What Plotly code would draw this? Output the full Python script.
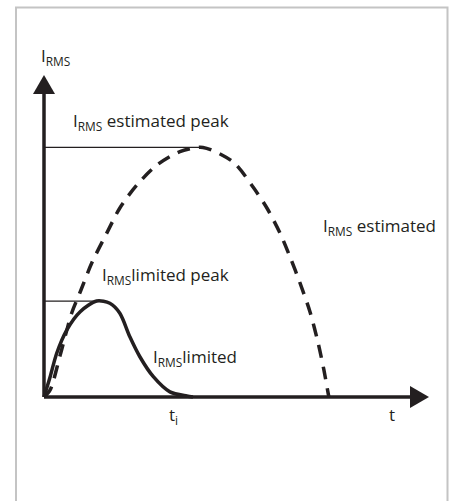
import plotly.graph_objects as go

# ---------------- data ----------------
# estimated I_RMS (dashed curve)
est_t = [0.00, 0.16, 0.42, 0.72, 0.94, 1.24, 1.63, 1.97, 2.41, 2.93, 3.53, 4.13,
         4.91, 5.43, 5.79, 6.13, 6.39, 6.65, 6.91, 7.12, 7.27, 7.38, 7.40]
est_i = [0.00, 0.22, 1.30, 2.61, 3.26, 4.16, 5.09, 5.87, 6.58, 7.20, 7.62, 7.75,
         7.30, 6.52, 5.87, 5.09, 4.35, 3.54, 2.64, 1.68, 0.84, 0.12, 0.00]
# limited I_RMS (solid curve)
lim_t = [0.00, 0.16, 0.33, 0.59, 0.94, 1.37, 1.71, 1.97, 2.23, 2.49, 2.84, 3.27, 3.71, 3.87]
lim_i = [0.00, 0.63, 1.36, 2.08, 2.65, 2.98, 2.91, 2.60, 1.87, 1.25, 0.63, 0.16, 0.03, 0.00]

est_peak_t, est_peak_i = 4.13, 7.75
lim_peak_t, lim_peak_i = 1.37, 2.98

T_AXIS_END = 10.0
I_AXIS_END = 10.0

labels = ["I<sub>RMS</sub>",
          "I<sub>RMS</sub> estimated peak",
          "I<sub>RMS</sub> estimated",
          "I<sub>RMS</sub>limited peak",
          "I<sub>RMS</sub>limited",
          "t<sub>i</sub>",
          "t"]
label_t = [-0.12, 0.70, 7.20, 1.46, 2.78, 3.20, 8.92]
label_i = [10.59, 8.55, 5.28, 3.76, 1.24, -0.56, -0.53]

# ---------------- layout geometry ----------------
W, H = 453, 501
OX, OY = 44, 397          # origin in pixels
PX_T = 38.5               # pixels per t unit
PX_I = 32.2               # pixels per I unit
xr = [-OX / PX_T, (W - OX) / PX_T]
yr = [-(H - OY) / PX_I, OY / PX_I]

INK = "#231f20"
AH_LEN, AH_HALF = 19, 11  # arrowhead size in px

fig = go.Figure()

# thin peak reference lines
fig.add_trace(go.Scatter(x=[0, est_peak_t], y=[est_peak_i, est_peak_i], mode="lines",
                         line=dict(color=INK, width=1.2), hoverinfo="skip"))
fig.add_trace(go.Scatter(x=[0, lim_peak_t], y=[lim_peak_i, lim_peak_i], mode="lines",
                         line=dict(color=INK, width=1.2), hoverinfo="skip"))

# curves
fig.add_trace(go.Scatter(x=est_t, y=est_i, mode="lines",
                         line=dict(color=INK, width=3.5, dash="13px,9px", shape="spline", smoothing=0.8),
                         hoverinfo="skip"))
fig.add_trace(go.Scatter(x=lim_t, y=lim_i, mode="lines",
                         line=dict(color=INK, width=3.5, shape="spline", smoothing=0.8),
                         hoverinfo="skip"))

# axes with arrowheads
t_base = T_AXIS_END - AH_LEN / PX_T
i_base = I_AXIS_END - AH_LEN / PX_I
fig.add_trace(go.Scatter(x=[0, t_base + 0.05], y=[0, 0], mode="lines",
                         line=dict(color=INK, width=3.5), hoverinfo="skip"))
fig.add_trace(go.Scatter(x=[0, 0], y=[0, i_base + 0.05], mode="lines",
                         line=dict(color=INK, width=3.5), hoverinfo="skip"))
hw_i = AH_HALF / PX_I
hw_t = AH_HALF / PX_T
fig.add_shape(type="path", xref="x", yref="y", line=dict(width=0), fillcolor=INK,
              path=f"M {t_base},{-hw_i} L {T_AXIS_END},0 L {t_base},{hw_i} Z")
fig.add_shape(type="path", xref="x", yref="y", line=dict(width=0), fillcolor=INK,
              path=f"M {-hw_t},{i_base} L 0,{I_AXIS_END} L {hw_t},{i_base} Z")

# frame
fig.add_shape(type="rect", xref="paper", yref="paper",
              x0=16 / W, x1=447.5 / W, y0=-0.05, y1=1 - 7.5 / H,
              line=dict(color="#c4c4c4", width=2), fillcolor="rgba(0,0,0,0)")

for txt, tx, ty in zip(labels, label_t, label_i):
    fig.add_annotation(x=tx, y=ty, xref="x", yref="y", text=txt, showarrow=False,
                       xanchor="left", yanchor="middle",
                       font=dict(family="Open Sans", size=17, color=INK))

fig.update_layout(width=W, height=H, margin=dict(l=0, r=0, t=0, b=0),
                  paper_bgcolor="white", plot_bgcolor="white", showlegend=False,
                  xaxis=dict(range=xr, visible=False, fixedrange=True),
                  yaxis=dict(range=yr, visible=False, fixedrange=True))

fig.write_html("out.html", config={"displayModeBar": False},
               post_script="document.body.style.margin='0';document.body.style.overflow='hidden';")
